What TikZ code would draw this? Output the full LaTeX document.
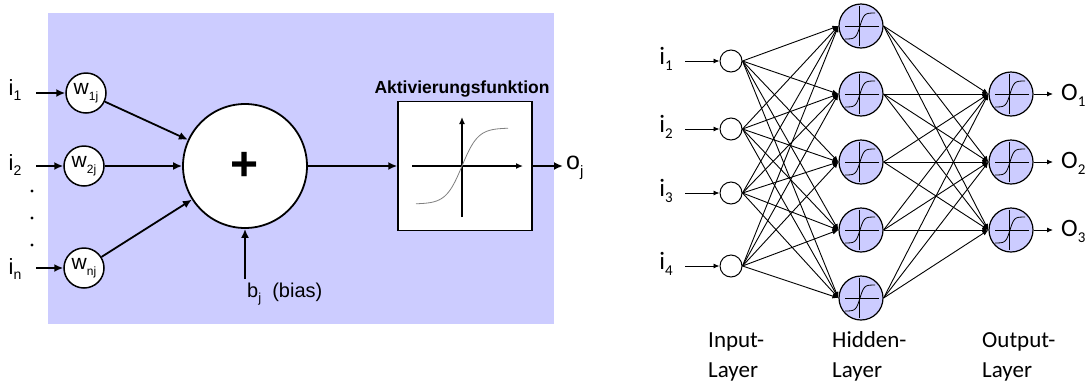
\documentclass[tikz,border=0pt]{standalone}
\usepackage{fontspec}
\setmainfont{Liberation Sans}
\newfontfamily\carl{Carlito}
\usetikzlibrary{arrows.meta,calc}
\definecolor{lav}{RGB}{204,204,255}
\newcommand\dn[2]{\raisebox{-0.5ex}{\fontsize{#1}{#1}\selectfont #2}}
\begin{document}
\begin{tikzpicture}[x=1pt,y=-1pt,
  bigarr/.style={line width=1.8pt,-{Latex[length=9pt,width=8pt]}},
  axarr/.style={line width=1.3pt,-{Latex[length=7pt,width=6pt]}},
  wnode/.style={circle,draw,line width=1.5pt,fill=white,minimum size=40pt,inner sep=0pt,font=\fontsize{21}{21}\selectfont},
  lbl/.style={inner sep=0pt,font=\fontsize{22}{24}\selectfont},
  innode/.style={circle,draw,line width=1pt,fill=white,minimum size=22pt,inner sep=0pt},
  neuron/.style={circle,draw,line width=1.2pt,fill=lav,minimum size=44pt,inner sep=0pt},
  rlbl/.style={inner sep=0pt,font=\carl\fontsize{25}{25}\selectfont},
  edge/.style={line width=0.9pt,-{Latex[length=6pt,width=5pt]}},
  icon/.style={line width=0.8pt},
  layer/.style={inner sep=0pt,anchor=north west,align=left,font=\carl\fontsize{23}{30}\selectfont},
]
\useasboundingbox (0,0) rectangle (1086,381);

% ---------- left panel ----------
\fill[lav] (48,13) rectangle (554,324);

\node[wnode] (w1) at (86,93) {w\dn{12}{1j}};
\node[wnode] (w2) at (84,166) {w\dn{12}{2j}};
\node[wnode] (wn) at (84,268) {w\dn{12}{nj}};

\node[lbl] (i1) at (15,90) {i\dn{14}{1}};
\node[lbl] (i2) at (15,165) {i\dn{14}{2}};
\node[lbl] (in) at (15,269) {i\dn{14}{n}};

\coordinate (a1) at (36,93);
\coordinate (a2) at (36,166);
\coordinate (an) at (36,268);
\draw[bigarr] (a1) -- (w1.west);
\draw[bigarr] (a2) -- (w2.west);
\draw[bigarr] (an) -- (wn.west);

\fill (32,191) circle[radius=1.7pt];
\fill (32,218) circle[radius=1.7pt];
\fill (32,245) circle[radius=1.7pt];

\node[circle,draw,line width=1.8pt,fill=white,minimum size=124pt,inner sep=0pt,
      font=\bfseries\fontsize{48}{48}\selectfont] (sum) at (245,166) {+};

\draw[bigarr] (w1) -- (sum);
\draw[bigarr] (w2) -- (sum);
\draw[bigarr] (wn) -- (sum);

\coordinate (b0) at (245,279);
\draw[bigarr] (b0) -- (sum.south);
\node[inner sep=0pt,anchor=base west,font=\fontsize{20}{22}\selectfont] (bias) at (247,297) {b\dn{13}{j}\ \ (bias)};

\node[draw,line width=1.5pt,fill=white,minimum width=134pt,minimum height=129pt,inner sep=0pt] (act) at (465,166) {};
\node[inner sep=0pt,anchor=base,font=\bfseries\fontsize{17.5}{18}\selectfont] (title) at (462,93) {Aktivierungsfunktion};

\draw[bigarr] (sum.east) -- (act.west);

\draw[axarr] (412,166) -- (523,166);
\draw[axarr] (462,217) -- (462,117);
\draw[gray,line width=0.8pt,domain=-46:46,samples=60,smooth] plot ({462+\x},{166-38*tanh(\x/16)});

\coordinate (oend) at (563,166);
\draw[bigarr] (act.east) -- (oend);
\node[inner sep=0pt,anchor=west,font=\fontsize{25}{25}\selectfont] (oj) at (566,168) {o\dn{15}{j}};

% ---------- right panel ----------
\foreach \k/\y in {1/61,2/129,3/193,4/266}{
  \node[innode] (x\k) at (731,\y) {};
  \coordinate (s\k) at (685,\y);
  \draw[edge] (s\k) -- (x\k.west);
  \node[rlbl] (il\k) at (666,\y-2) {i\dn{15}{\k}};
}
\foreach \k/\y in {1/26,2/94,3/162,4/230,5/298}{
  \node[neuron] (h\k) at (861,\y) {};
}
\foreach \k/\y in {1/94,2/162,3/230}{
  \node[neuron] (o\k) at (1011,\y) {};
  \coordinate (e\k) at (1053,\y);
  \draw[edge] (o\k.east) -- (e\k);
  \node[rlbl,anchor=west] (ol\k) at (1061,\y+1) {O\dn{15}{\k}};
}
\foreach \n in {h1,h2,h3,h4,h5,o1,o2,o3}{
  \begin{scope}[shift={(\n.center)}]
    \draw[icon] (-16,0) -- (18,0);
    \draw[icon] (-2,-20) -- (-2,20);
    \draw[icon,domain=-16:14,samples=40,smooth] plot ({\x},{-13*tanh((\x+1)/4)});
  \end{scope}
}
\foreach \a in {1,...,4}{
  \foreach \b in {1,...,5}{
    \draw[edge] (x\a.east) -- (h\b.west);
  }
}
\foreach \a in {1,...,5}{
  \foreach \b in {1,2,3}{
    \draw[edge] (h\a.east) -- (o\b.west);
  }
}

\node[layer] (L1) at (708,329) {\rule{0pt}{18pt}Input-\\Layer};
\node[layer] (L2) at (832,329) {\rule{0pt}{18pt}Hidden-\\Layer};
\node[layer] (L3) at (982,329) {\rule{0pt}{18pt}Output-\\Layer};
\end{tikzpicture}
\end{document}
